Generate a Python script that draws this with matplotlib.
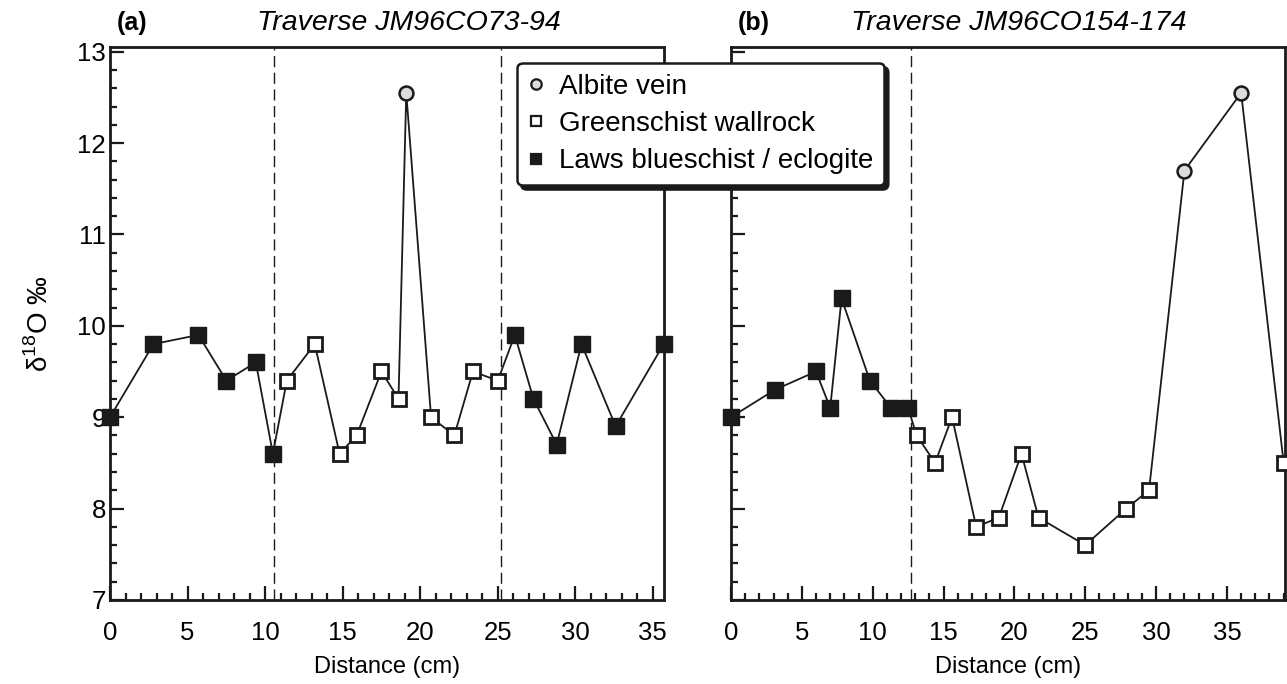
import matplotlib.pyplot as plt
from matplotlib.lines import Line2D
from matplotlib.ticker import MultipleLocator

plt.rcParams['font.family'] = ['Liberation Sans', 'DejaVu Sans']
plt.rcParams['mathtext.fontset'] = 'custom'
plt.rcParams['mathtext.rm'] = 'Liberation Sans'

# === Data ===
# (a) Traverse JM96CO73-94
a_dist = [0, 2.8, 5.7, 7.5, 9.4, 10.5, 11.4, 13.2, 14.8, 15.9, 17.5, 18.6,
          19.1, 20.7, 22.2, 23.4, 25.0, 26.1, 27.3, 28.8, 30.4, 32.6, 35.7]
a_d18o = [9.0, 9.8, 9.9, 9.4, 9.6, 8.6, 9.4, 9.8, 8.6, 8.8, 9.5, 9.2,
          12.55, 9.0, 8.8, 9.5, 9.4, 9.9, 9.2, 8.7, 9.8, 8.9, 9.8]
a_type = ['L', 'L', 'L', 'L', 'L', 'L', 'G', 'G', 'G', 'G', 'G', 'G',
          'A', 'G', 'G', 'G', 'G', 'L', 'L', 'L', 'L', 'L', 'L']
a_contacts = [10.6, 25.2]

# (b) Traverse JM96CO154-174
b_dist = [0, 3.1, 6.0, 7.0, 7.8, 9.8, 11.3, 12.5, 13.1, 14.4, 15.6, 17.3,
          18.9, 20.5, 21.7, 25.0, 27.9, 29.5, 32.0, 36.0, 39.0]
b_d18o = [9.0, 9.3, 9.5, 9.1, 10.3, 9.4, 9.1, 9.1, 8.8, 8.5, 9.0, 7.8,
          7.9, 8.6, 7.9, 7.6, 8.0, 8.2, 11.7, 12.55, 8.5]
b_type = ['L', 'L', 'L', 'L', 'L', 'L', 'L', 'L', 'G', 'G', 'G', 'G',
          'G', 'G', 'G', 'G', 'G', 'G', 'A', 'A', 'G']
b_contacts = [12.7]

labels = {'A': 'Albite vein', 'G': 'Greenschist wallrock',
          'L': 'Laws blueschist / eclogite'}
styles = {'A': dict(marker='o', ms=10, mfc='#dcdcdc', mec='#1a1a1a', mew=1.8),
          'G': dict(marker='s', ms=10, mfc='white', mec='#1a1a1a', mew=2.0),
          'L': dict(marker='s', ms=11.5, mfc='#1a1a1a', mec='#1a1a1a', mew=1.0)}

fig = plt.figure(figsize=(12.87, 6.84), dpi=100)
ax1 = fig.add_axes([0.0855, 0.123, 0.4302, 0.808])
ax2 = fig.add_axes([0.568, 0.123, 0.4305, 0.808])

panels = [(ax1, a_dist, a_d18o, a_type, a_contacts, 35.7, '(a)', 'Traverse JM96CO73-94', 0.54),
          (ax2, b_dist, b_d18o, b_type, b_contacts, 39.1, '(b)', 'Traverse JM96CO154-174', 0.52)]

for ax, dist, d18o, kinds, contacts, xmax, tag, title, tx in panels:
    for c in contacts:
        ax.axvline(c, color='#1a1a1a', lw=1.0, ls=(0, (8, 4)), zorder=1)
    ax.plot(dist, d18o, '-', color='#1a1a1a', lw=1.3, zorder=2)
    for k in ['L', 'G', 'A']:
        xs = [d for d, t in zip(dist, kinds) if t == k]
        ys = [v for v, t in zip(d18o, kinds) if t == k]
        ax.plot(xs, ys, ls='none', zorder=3, clip_on=False, **styles[k])

    ax.set_xlim(0, xmax)
    ax.set_ylim(7, 13.05)
    ax.xaxis.set_major_locator(MultipleLocator(5))
    ax.xaxis.set_minor_locator(MultipleLocator(1))
    ax.yaxis.set_major_locator(MultipleLocator(1))
    ax.yaxis.set_minor_locator(MultipleLocator(0.2))
    ax.tick_params(which='both', direction='in', top=False, right=False,
                   width=1.6, color='#1a1a1a', labelsize=18.5)
    ax.tick_params(axis='x', which='both', pad=15)
    ax.tick_params(axis='y', which='both', pad=3)
    ax.tick_params(which='major', length=10)
    ax.tick_params(which='minor', length=5)
    for s in ax.spines.values():
        s.set_linewidth(2.0)
        s.set_color('#1a1a1a')
    ax.set_xlabel('Distance (cm)', fontsize=17, labelpad=8)
    ax.text(0.012, 1.043, tag, transform=ax.transAxes, fontsize=18,
            fontweight='bold', ha='left', va='center')
    ax.text(tx, 1.043, title, transform=ax.transAxes, fontsize=20.5,
            style='italic', ha='center', va='center')

ax1.set_ylabel('δ$^{18}$O ‰', fontsize=20, labelpad=17)
ax2.tick_params(axis='y', labelleft=False)

handles = [Line2D([], [], ls='none', **dict(styles[k], ms=7.5, mew=1.6))
           for k in ['A', 'G', 'L']]
leg = fig.legend(handles, [labels[k] for k in ['A', 'G', 'L']],
                 loc='upper left', bbox_to_anchor=(0.4017, 0.908),
                 fontsize=20, frameon=True, fancybox=True,
                 shadow={'color': '#1a1a1a', 'alpha': 1, 'ox': 3, 'oy': -3},
                 handlelength=0.6, handletextpad=0.5, labelspacing=0.4,
                 borderpad=0.4, borderaxespad=0)
leg.get_frame().set_edgecolor('#1a1a1a')
leg.get_frame().set_linewidth(1.8)
leg.get_frame().set_facecolor('white')
leg.set_zorder(10)

fig.savefig('out.png', dpi=100)
